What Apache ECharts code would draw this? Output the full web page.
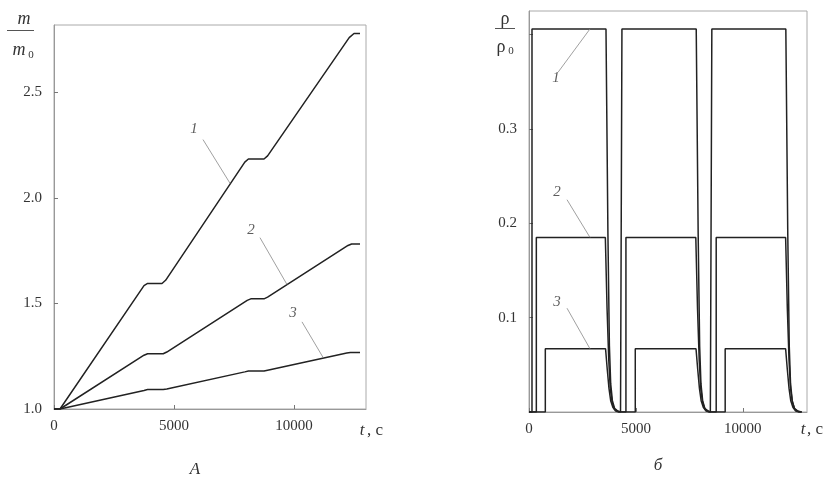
<!DOCTYPE html>
<html>
<head>
<meta charset="utf-8">
<script src="https://cdn.jsdelivr.net/npm/echarts@6/dist/echarts.min.js"></script>
<style>
  html, body { margin: 0; padding: 0; background: #fff; }
  #chart { width: 823px; height: 483px; }
</style>
</head>
<body>
<div id="chart"></div>
<script>
// panel A: m/m0 vs t, s
const massCurve1 = [[0, 1], [250, 1.0], [3750, 1.585], [3900, 1.595], [4500, 1.595], [4650, 1.61], [7950, 2.17], [8100, 2.185], [8750, 2.185], [8900, 2.2], [12300, 2.76], [12500, 2.78], [12750, 2.78]];
const massCurve2 = [[0, 1], [250, 1.0], [3750, 1.255], [3900, 1.262], [4550, 1.262], [4700, 1.27], [8050, 1.515], [8200, 1.522], [8750, 1.522], [8900, 1.53], [12250, 1.775], [12400, 1.782], [12750, 1.782]];
const massCurve3 = [[0, 1], [250, 1.0], [3750, 1.088], [3900, 1.092], [4550, 1.092], [4700, 1.095], [7950, 1.176], [8100, 1.18], [8750, 1.18], [8900, 1.184], [12200, 1.265], [12350, 1.268], [12750, 1.268]];

// panel б: rho/rho0 vs t, s
const rhoCurve1 = [[0, 0], [140, 0], [140, 0.406], [3600, 0.406], [3690, 0.19], [3760, 0.07], [3820, 0.03], [3900, 0.012], [4000, 0.004], [4150, 0.001], [4280, 0], [4346, 0], [4346, 0.406], [7820, 0.406], [7910, 0.19], [7980, 0.07], [8040, 0.03], [8120, 0.012], [8220, 0.004], [8370, 0.001], [8480, 0], [8550, 0], [8550, 0.406], [12010, 0.406], [12100, 0.19], [12170, 0.07], [12230, 0.03], [12310, 0.012], [12410, 0.004], [12560, 0.001], [12750, 0]];
const rhoCurve2 = [[0, 0], [343, 0], [343, 0.185], [3570, 0.185], [3650, 0.11], [3730, 0.055], [3800, 0.025], [3890, 0.01], [4000, 0.003], [4200, 0], [4533, 0], [4533, 0.185], [7800, 0.185], [7880, 0.11], [7960, 0.055], [8030, 0.025], [8120, 0.01], [8230, 0.003], [8430, 0], [8754, 0], [8754, 0.185], [12000, 0.185], [12080, 0.11], [12160, 0.055], [12230, 0.025], [12320, 0.01], [12430, 0.003], [12630, 0], [12750, 0]];
const rhoCurve3 = [[0, 0], [763, 0], [763, 0.067], [3580, 0.067], [3660, 0.045], [3740, 0.025], [3820, 0.012], [3920, 0.005], [4050, 0.001], [4200, 0], [4970, 0], [4970, 0.067], [7810, 0.067], [7890, 0.045], [7970, 0.025], [8050, 0.012], [8150, 0.005], [8280, 0.001], [8430, 0], [9174, 0], [9174, 0.067], [12000, 0.067], [12080, 0.045], [12160, 0.025], [12240, 0.012], [12340, 0.005], [12470, 0.001], [12620, 0], [12750, 0]];

// curve numbers and their leader lines (data coords)
const massLabels = [[5833, 2.325, '1'], [8208, 1.85, '2'], [9958, 1.456, '3']];
const massLeaders = [
  [[6208, 2.277], [7333, 2.07]],
  [[8583, 1.812], [9708, 1.59]],
  [[10333, 1.413], [11208, 1.245]]
];
const rhoLabels = [[1263, 0.354, '1'], [1309, 0.233, '2'], [1309, 0.117, '3']];
const rhoLeaders = [
  [[1356, 0.360], [2852, 0.406]],
  [[1777, 0.225], [2852, 0.185]],
  [[1777, 0.110], [2852, 0.067]]
];

const serif = 'Liberation Serif';
const chart = echarts.init(document.getElementById('chart'), null, { renderer: 'canvas' });

function xAxisFor(gridIndex) {
  return {
    type: 'value', gridIndex: gridIndex, min: 0, max: 13000, interval: 5000,
    axisLine: { lineStyle: { color: '#999' } },
    axisTick: { inside: true, length: 4, lineStyle: { color: '#777' } },
    splitLine: { show: false },
    axisLabel: {
      color: '#333', fontFamily: serif, fontSize: 15, margin: 10, showMaxLabel: false,
      formatter: (v) => (v % 5000 === 0 ? String(v) : '')
    }
  };
}

function curve(data, xi, yi) {
  return {
    type: 'line', xAxisIndex: xi, yAxisIndex: yi, data: data,
    symbol: 'none', silent: true,
    lineStyle: { color: '#222', width: 1.5 }
  };
}

function leader(data, xi, yi) {
  return {
    type: 'line', xAxisIndex: xi, yAxisIndex: yi, data: data,
    symbol: 'none', silent: true,
    lineStyle: { color: '#888', width: 0.8 }
  };
}

function numbers(data, xi, yi) {
  return {
    type: 'scatter', xAxisIndex: xi, yAxisIndex: yi, data: data,
    symbolSize: 1, silent: true, itemStyle: { color: 'transparent' },
    label: {
      show: true, position: 'inside', formatter: (p) => p.data[2],
      color: '#333', fontFamily: serif, fontStyle: 'italic', fontSize: 15
    }
  };
}

const series = [
  curve(massCurve1, 0, 0), curve(massCurve2, 0, 0), curve(massCurve3, 0, 0),
  curve(rhoCurve1, 1, 1), curve(rhoCurve2, 1, 1), curve(rhoCurve3, 1, 1),
  numbers(massLabels, 0, 0), numbers(rhoLabels, 1, 1)
];
massLeaders.forEach((d) => series.push(leader(d, 0, 0)));
rhoLeaders.forEach((d) => series.push(leader(d, 1, 1)));

function txt(x, y, text, size, italic) {
  return {
    type: 'text', x: x, y: y, silent: true,
    style: {
      text: text, fill: '#333', font: (italic ? 'italic ' : '') + size + 'px "Liberation Serif"',
      align: 'center', verticalAlign: 'middle'
    }
  };
}

chart.setOption({
  animation: false,
  grid: [
    { left: 54, top: 25, width: 312, height: 384, show: true, borderColor: '#aaa', borderWidth: 1 },
    { left: 529, top: 11, width: 278, height: 401, show: true, borderColor: '#aaa', borderWidth: 1 }
  ],
  xAxis: [xAxisFor(0), xAxisFor(1)],
  yAxis: [
    {
      type: 'value', gridIndex: 0, min: 1, max: 2.82, interval: 0.5,
      axisLine: { lineStyle: { color: '#999' } },
      axisTick: { inside: true, length: 4, lineStyle: { color: '#777' } },
      splitLine: { show: false },
      axisLabel: {
        color: '#333', fontFamily: serif, fontSize: 15, margin: 12, showMaxLabel: false,
        formatter: (v) => (v < 2.8 ? v.toFixed(1) : '')
      }
    },
    {
      type: 'value', gridIndex: 1, min: 0, max: 0.425, interval: 0.1,
      axisLine: { lineStyle: { color: '#999' } },
      axisTick: { inside: true, length: 4, lineStyle: { color: '#777' } },
      splitLine: { show: false },
      axisLabel: {
        color: '#333', fontFamily: serif, fontSize: 15, margin: 12, showMaxLabel: false,
        formatter: (v) => (v > 0.05 && v < 0.35 ? v.toFixed(1) : '')
      }
    }
  ],
  graphic: [
    // m / m0
    txt(24, 19, 'm', 18, true),
    { type: 'rect', silent: true, shape: { x: 7, y: 30, width: 27, height: 1 }, style: { fill: '#555' } },
    txt(19, 50, 'm', 18, true),
    txt(31, 55, '0', 11, false),
    // rho / rho0
    txt(505, 19, 'ρ', 18, false),
    { type: 'rect', silent: true, shape: { x: 495, y: 28, width: 20, height: 1 }, style: { fill: '#555' } },
    txt(501, 47, 'ρ', 18, false),
    txt(511, 51, '0', 11, false),
    // axis names
    txt(362, 431, 't', 17, true),
    txt(375, 431, ', с', 17, false),
    txt(803, 430, 't', 17, true),
    txt(815, 430, ', с', 17, false),
    // panel captions
    txt(195, 470, 'А', 17, true),
    txt(658, 466, 'б', 17, true)
  ],
  series: series
});
</script>
</body>
</html>
